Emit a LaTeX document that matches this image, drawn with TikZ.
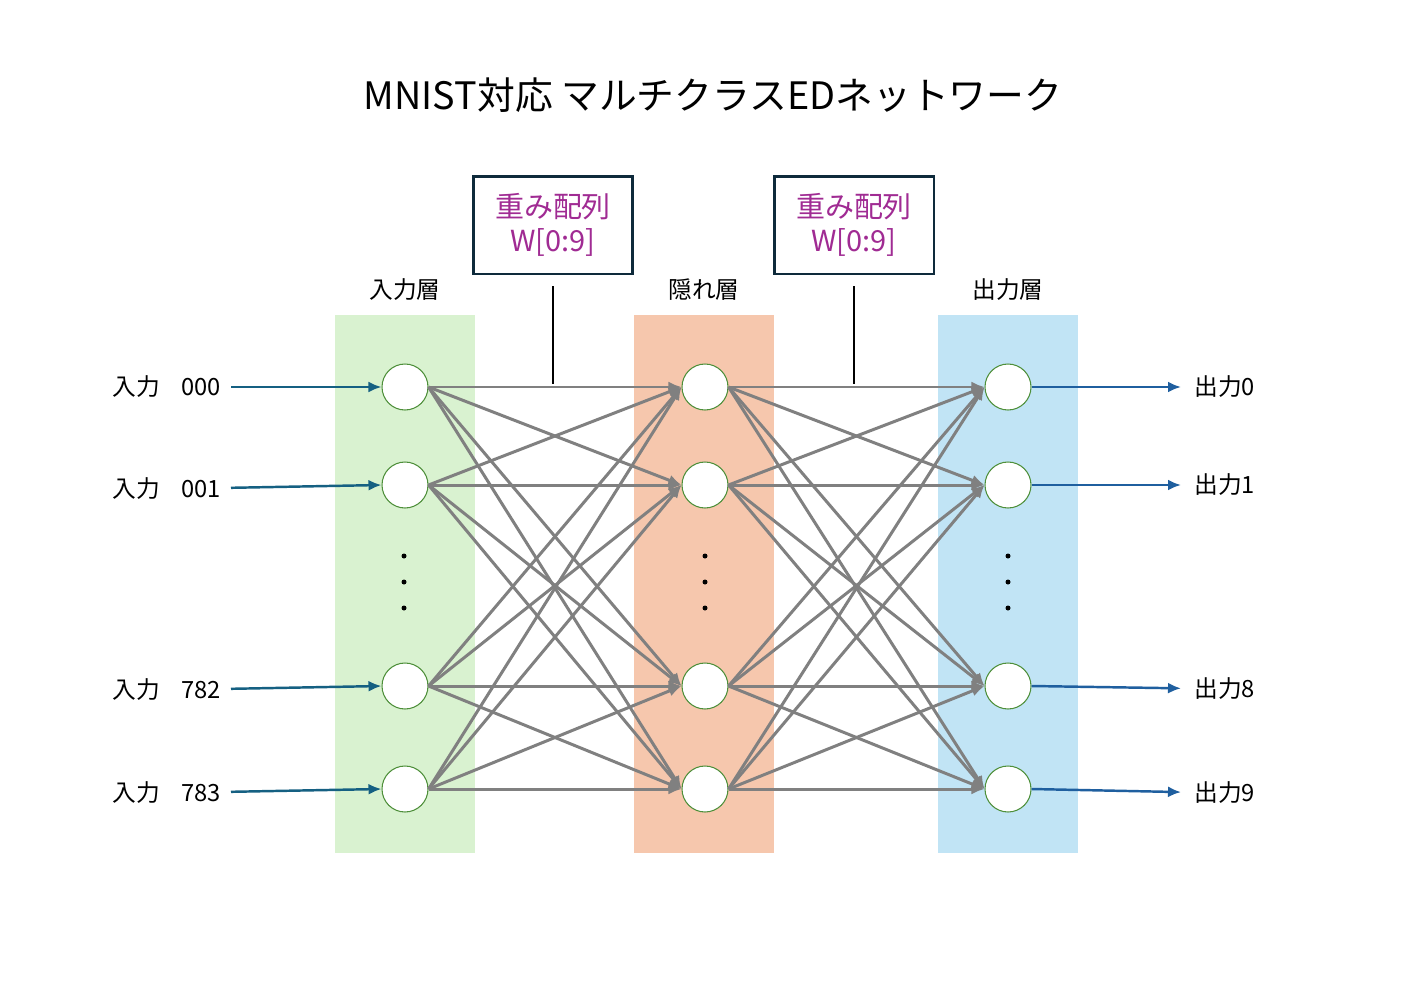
\documentclass[tikz,border=0pt]{standalone}
\usepackage{fontspec}
\setmainfont{Noto Sans CJK JP}
\usetikzlibrary{arrows.meta, positioning}
\definecolor{ingreen}{HTML}{D9F2D0}
\definecolor{hidorange}{HTML}{F6C7AD}
\definecolor{outblue}{HTML}{C1E4F5}
\definecolor{neuronborder}{HTML}{4E8F3A}
\definecolor{boxborder}{HTML}{0E2A3B}
\definecolor{boxtext}{HTML}{A02B93}
\definecolor{inarrowcol}{HTML}{156082}
\definecolor{outarrowcol}{HTML}{1F5F9F}
\definecolor{linkgray}{HTML}{808080}
\tikzset{
layerbg/.style={
draw=none,
minimum width=2.8cm,
minimum height=10.76cm,
inner sep=0pt
},
neuron/.style={
circle,
draw=neuronborder,
fill=white,
line width=0.6pt,
minimum size=0.92cm,
inner sep=0pt
},
weightbox/.style={
draw=boxborder,
fill=white,
line width=1.7pt,
minimum width=3.2cm,
minimum height=1.96cm,
align=center,
text=boxtext,
font=\fontsize{16.5pt}{19pt}\selectfont,
inner sep=2pt
},
labelbox/.style={
font=\fontsize{13.5pt}{16pt}\selectfont,
text=black,
inner sep=0pt
},
link/.style={
-{Latex[length=2.6mm,width=2.2mm]},
line width=1.7pt,
draw=linkgray
},
inarrow/.style={
-{Latex[length=2.6mm,width=2.2mm]},
line width=1.4pt,
draw=inarrowcol
},
outarrow/.style={
-{Latex[length=2.6mm,width=2.2mm]},
line width=1.4pt,
draw=outarrowcol
},
weightline/.style={
line width=1.2pt,
draw=black
},
vdot/.style={
circle,
fill=black,
inner sep=0pt,
minimum size=0.1cm
}
}

\begin{document}
\begin{tikzpicture}[x=0.02cm, y=-0.02cm]
\useasboundingbox[fill=white] (0,0) rectangle (1427,984);

\node[font=\fontsize{21.5pt}{24pt}\selectfont] (title) at (713,95) {MNIST対応 マルチクラスEDネットワーク};

% layer backgrounds
\node[layerbg, fill=ingreen] (inlayer) at (405,584) {};
\node[layerbg, fill=hidorange] (hidlayer) at (704,584) {};
\node[layerbg, fill=outblue] (outlayer) at (1008,584) {};

\node[labelbox, above=0.28cm of inlayer] (inname) {入力層};
\node[labelbox, above=0.28cm of hidlayer] (hidname) {隠れ層};
\node[labelbox, above=0.28cm of outlayer] (outname) {出力層};

% neurons
\foreach \i/\y in {0/387, 1/485, 2/686, 3/789} {
  \node[neuron] (in\i) at (405,\y) {};
  \node[neuron] (hid\i) at (705,\y) {};
  \node[neuron] (out\i) at (1008,\y) {};
}

\foreach \x in {404, 705, 1008} {
  \foreach \y in {556, 582, 608}
    \node[vdot] at (\x,\y) {};
}

% connections
\foreach \i in {0,...,3} {
  \foreach \j in {0,...,3} {
    \draw[link] (in\i.east) -- (hid\j.west);
    \draw[link] (hid\i.east) -- (out\j.west);
  }
}

% weight arrays
\node[weightbox] (wbox1) at (553,225) {重み配列\\W[0:9]};
\node[weightbox] (wbox2) at (854,225) {重み配列\\W[0:9]};
\coordinate (w1tap) at (553,384);
\coordinate (w2tap) at (854,384);
\draw[weightline, shorten <=0.22cm] (wbox1) -- (w1tap);
\draw[weightline, shorten <=0.22cm] (wbox2) -- (w2tap);

% inputs
\node[labelbox, anchor=east] (inlab0) at (221,387) {入力\hspace{0.9em}000};
\node[labelbox, anchor=east] (inlab1) at (221,489) {入力\hspace{0.9em}001};
\node[labelbox, anchor=east] (inlab2) at (221,690) {入力\hspace{0.9em}782};
\node[labelbox, anchor=east] (inlab3) at (221,793) {入力\hspace{0.9em}783};
\foreach \i in {0,...,3}
  \draw[inarrow, shorten <=0.2cm] (inlab\i) -- (in\i.west);

% outputs
\node[labelbox, anchor=west] (outlab0) at (1194,387) {出力0};
\node[labelbox, anchor=west] (outlab1) at (1194,485) {出力1};
\node[labelbox, anchor=west] (outlab2) at (1194,689) {出力8};
\node[labelbox, anchor=west] (outlab3) at (1194,793) {出力9};
\foreach \i in {0,...,3}
  \draw[outarrow, shorten >=0.26cm] (out\i.east) -- (outlab\i);

\end{tikzpicture}
\end{document}
